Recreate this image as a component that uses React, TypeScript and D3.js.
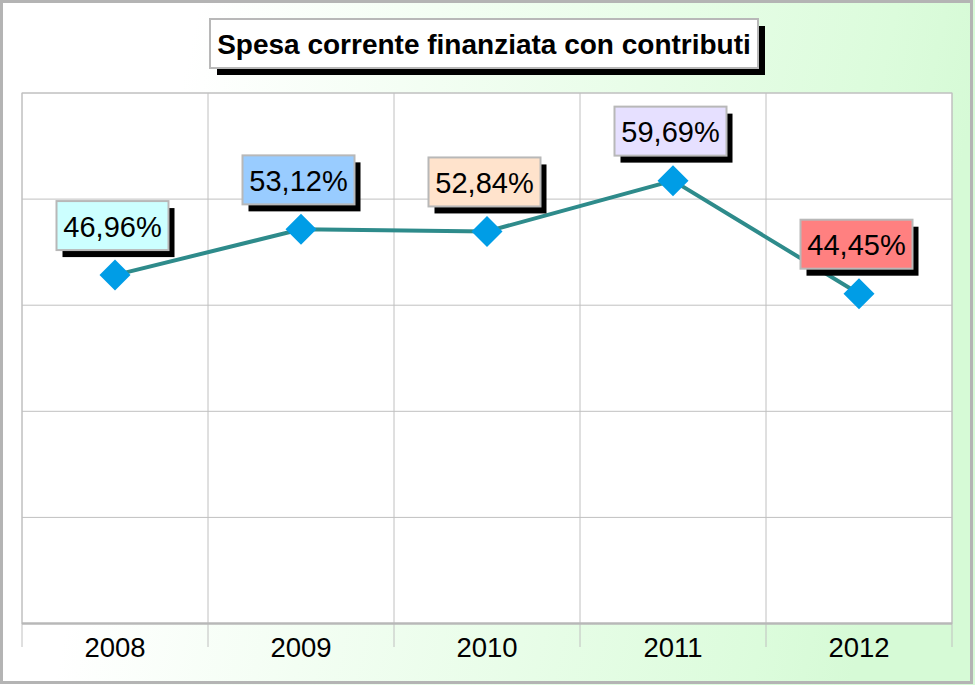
import React from "react";
import * as d3 from "d3";

const years = ["2008", "2009", "2010", "2011", "2012"];
const values = [46.96, 53.12, 52.84, 59.69, 44.45];
const labels = ["46,96%", "53,12%", "52,84%", "59,69%", "44,45%"];
const labelFills = ["#ccffff", "#99ccff", "#ffe3cc", "#e6e0ff", "#ff8080"];
const title = "Spesa corrente finanziata con contributi";

const W = 975;
const H = 685;
const plot = { left: 22, right: 952, top: 93, bottom: 623.5 };

export default function App() {
  const x = d3.scaleBand().domain(years).range([plot.left, plot.right]).padding(0);
  const y = d3.scaleLinear().domain([0, 71.5]).range([plot.bottom, plot.top]);
  const yTicks = d3.range(0, 6).map((i) => (71.5 / 5) * i);
  const cx = (d: string) => (x(d) as number) + x.bandwidth() / 2;
  const line = d3
    .line<number>()
    .x((_, i) => cx(years[i]))
    .y((v) => y(v));
  const r = 15.5;
  const boxW = 112;
  const boxH = 49;
  const font = "'Liberation Sans', Arial, sans-serif";

  return (
    <svg
      width={W}
      height={H}
      style={{ position: "absolute", left: 0, top: 0 }}
      fontFamily={font}
    >
      <defs>
        <linearGradient id="bg" x1="0" y1="0" x2="1" y2="0.15">
          <stop offset="0" stopColor="#ffffff" />
          <stop offset="0.2" stopColor="#ffffff" />
          <stop offset="0.9" stopColor="#dcfcdc" />
          <stop offset="1" stopColor="#d6fad6" />
        </linearGradient>
      </defs>
      <rect x={0} y={0} width={W} height={H} fill="url(#bg)" />
      <rect x={1.5} y={1.5} width={970} height={681} fill="none" stroke="#b4b4b4" strokeWidth={3} />

      {/* plot area */}
      <rect
        x={plot.left}
        y={plot.top}
        width={plot.right - plot.left}
        height={plot.bottom - plot.top}
        fill="#ffffff"
        stroke="#c0c0c0"
        strokeWidth={1}
      />
      {yTicks.map((t, i) => (
        <line
          key={"h" + i}
          x1={plot.left}
          x2={plot.right}
          y1={y(t)}
          y2={y(t)}
          stroke="#c0c0c0"
          strokeWidth={1}
        />
      ))}
      {years.map((yr, i) => (
        <line
          key={"v" + i}
          x1={x(yr) as number}
          x2={x(yr) as number}
          y1={plot.top}
          y2={647}
          stroke="#c0c0c0"
          strokeWidth={1}
        />
      ))}
      <line x1={plot.right} x2={plot.right} y1={plot.top} y2={647} stroke="#c0c0c0" strokeWidth={1} />
      <line x1={plot.left} x2={plot.right} y1={plot.bottom} y2={plot.bottom} stroke="#b8b8b8" strokeWidth={2.5} />

      {years.map((yr) => (
        <text key={"t" + yr} x={cx(yr)} y={657} textAnchor="middle" fontSize={27.5} fill="#000">
          {yr}
        </text>
      ))}

      {/* line */}
      <path d={line(values) || ""} fill="none" stroke="#2e8b8b" strokeWidth={4} />
      {values.map((v, i) => {
        const px = cx(years[i]);
        const py = y(v);
        return (
          <path
            key={"m" + i}
            d={`M${px},${py - r}L${px + r},${py}L${px},${py + r}L${px - r},${py}Z`}
            fill="#009de6"
          />
        );
      })}

      {/* labels */}
      {values.map((v, i) => {
        const px = cx(years[i]) - 2.5;
        const py = y(v);
        const bx = px - boxW / 2;
        const by = py - 25 - boxH;
        return (
          <g key={"l" + i}>
            <rect x={bx + 6} y={by + 7} width={boxW} height={boxH} fill="#000" />
            <rect x={bx} y={by} width={boxW} height={boxH} fill={labelFills[i]} stroke="#b8b8b8" strokeWidth={2} />
            <text x={px} y={by + 35.5} textAnchor="middle" fontSize={29} fill="#000">
              {labels[i]}
            </text>
          </g>
        );
      })}

      {/* title */}
      <rect x={217} y={26} width={548} height={49} fill="#000" />
      <rect x={210} y={19} width={548} height={49} fill="#ffffff" stroke="#b8b8b8" strokeWidth={2} />
      <text x={484} y={54} textAnchor="middle" fontSize={28} fontWeight="bold" fill="#000">
        {title}
      </text>
    </svg>
  );
}
